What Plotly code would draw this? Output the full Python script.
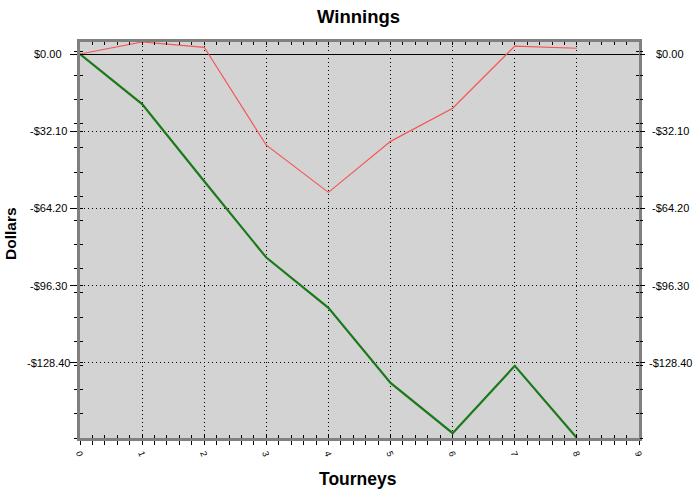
import plotly.graph_objects as go

tourneys = [0, 1, 2, 3, 4, 5, 6, 7, 8]
red_series = [0.0, 5.0, 2.8, -37.9, -57.5, -36.3, -22.5, 3.3, 2.4]
green_series = [0.0, -20.8, -52.9, -84.6, -105.5, -136.7, -157.6, -129.6, -159.6]
y_tick_vals = [0.0, -32.10, -64.20, -96.30, -128.40]
y_tick_text = ["$0.00", "-$32.10", "-$64.20", "-$96.30", "-$128.40"]
x_tick_vals = [0, 1, 2, 3, 4, 5, 6, 7, 8, 9]
x_tick_text = ["0", "1", "2", "3", "4", "5", "6", "7", "8", "9"]

y_min, y_max = -159.6, 5.0
y_minor_step = 10.05
font = "Liberation Sans, Arial, sans-serif"

fig = go.Figure()
fig.add_trace(go.Scatter(x=tourneys, y=red_series, mode="lines",
                         line=dict(color="#f55555", width=1.2), showlegend=False))
fig.add_trace(go.Scatter(x=tourneys, y=green_series, mode="lines",
                         line=dict(color="#1a7a1a", width=2.2), showlegend=False))
# invisible helper traces so the overlay axes (inside / right ticks) are drawn
fig.add_trace(go.Scatter(x=tourneys, y=green_series, xaxis="x2", yaxis="y2", mode="lines",
                         line=dict(width=0), opacity=0, hoverinfo="skip", showlegend=False))
fig.add_trace(go.Scatter(x=tourneys, y=green_series, xaxis="x", yaxis="y3", mode="lines",
                         line=dict(width=0), opacity=0, hoverinfo="skip", showlegend=False))

grid_dash = "1px,3px"

# centred y tick labels on both sides (placed via the y axis scale)
tick_annotations = []
for v, t in zip(y_tick_vals, y_tick_text):
    for px in (48, 670):
        tick_annotations.append(dict(
            text=t, xref="paper", yref="y", x=(px - 80) / 559, y=v,
            xanchor="center", yanchor="middle", showarrow=False,
            font=dict(family=font, size=11, color="black")))

fig.update_layout(
    width=700, height=490,
    paper_bgcolor="white", plot_bgcolor="#d3d3d3",
    margin=dict(l=80, r=61, t=42, b=52, autoexpand=False),
    xaxis=dict(range=[0, 9], tickmode="array", tickvals=x_tick_vals, ticktext=x_tick_text,
               tickangle=70, showline=True, mirror=True, linecolor="#808080", linewidth=2.5,
               ticks="outside", ticklen=4, tickcolor="black", tickwidth=1.3,
               showgrid=True, gridcolor="black", griddash=grid_dash, gridwidth=1,
               zeroline=False, automargin=False,
               tickfont=dict(family=font, size=9, color="black"),
               minor=dict(tickmode="linear", tick0=0, dtick=0.2, ticks="outside",
                          ticklen=4, tickcolor="black", tickwidth=1.3, showgrid=False)),
    xaxis2=dict(range=[0, 9], overlaying="x", side="bottom", tickmode="array",
                tickvals=x_tick_vals, showticklabels=False, showline=False, mirror="ticks",
                ticks="inside", ticklen=3, tickcolor="black", tickwidth=1.3,
                showgrid=False, zeroline=False, automargin=False,
                minor=dict(tickmode="linear", tick0=0, dtick=0.2, ticks="inside",
                           ticklen=3, tickcolor="black", tickwidth=1.3, showgrid=False)),
    yaxis=dict(range=[y_min, y_max], tickmode="array", tickvals=y_tick_vals,
               showticklabels=False,
               showline=True, mirror=True, linecolor="#808080", linewidth=2.5,
               ticks="outside", ticklen=7, tickcolor="black", tickwidth=1.3,
               showgrid=True, gridcolor="black", griddash=grid_dash, gridwidth=1,
               zeroline=True, zerolinecolor="black", zerolinewidth=1, automargin=False,
               minor=dict(tickmode="linear", tick0=y_min, dtick=y_minor_step, ticks="outside",
                          ticklen=3, tickcolor="black", tickwidth=1.3, showgrid=False)),
    yaxis2=dict(range=[y_min, y_max], overlaying="y", side="left", tickmode="array",
                tickvals=y_tick_vals, showticklabels=False, showline=False, mirror="ticks",
                ticks="inside", ticklen=3, tickcolor="black", tickwidth=1.3,
                showgrid=False, zeroline=False, automargin=False,
                minor=dict(tickmode="linear", tick0=y_min, dtick=y_minor_step, ticks="inside",
                           ticklen=3, tickcolor="black", tickwidth=1.3, showgrid=False)),
    yaxis3=dict(range=[y_min, y_max], overlaying="y", side="right", tickmode="array",
                tickvals=y_tick_vals, showticklabels=False, showline=False,
                ticks="outside", ticklen=5, tickcolor="black", tickwidth=1.3,
                showgrid=False, zeroline=False, automargin=False,
                minor=dict(tickmode="linear", tick0=y_min, dtick=y_minor_step, ticks="outside",
                           ticklen=3, tickcolor="black", tickwidth=1.3, showgrid=False)),
    annotations=[
        dict(text="<b>Winnings</b>", xref="paper", yref="paper", x=0.4975, y=1 + (42 - 17) / 396,
             xanchor="center", yanchor="middle", showarrow=False,
             font=dict(family=font, size=18.5, color="black")),
        dict(text="<b>Tourneys</b>", xref="paper", yref="paper", x=(358 - 80) / 559,
             y=-(479 - 438) / 396, xanchor="center", yanchor="middle", showarrow=False,
             font=dict(family=font, size=17.5, color="black")),
        dict(text="<b>Dollars</b>", xref="paper", yref="paper", x=-(80 - 10) / 559,
             y=(438 - 234) / 396, xanchor="center", yanchor="middle", showarrow=False,
             textangle=-90, font=dict(family=font, size=15.5, color="black")),
    ] + tick_annotations,
)

fig.write_html("out.html", config={"displayModeBar": False},
               post_script="document.body.style.margin='0';document.body.style.padding='0';"
                           "document.body.style.overflow='hidden';")
